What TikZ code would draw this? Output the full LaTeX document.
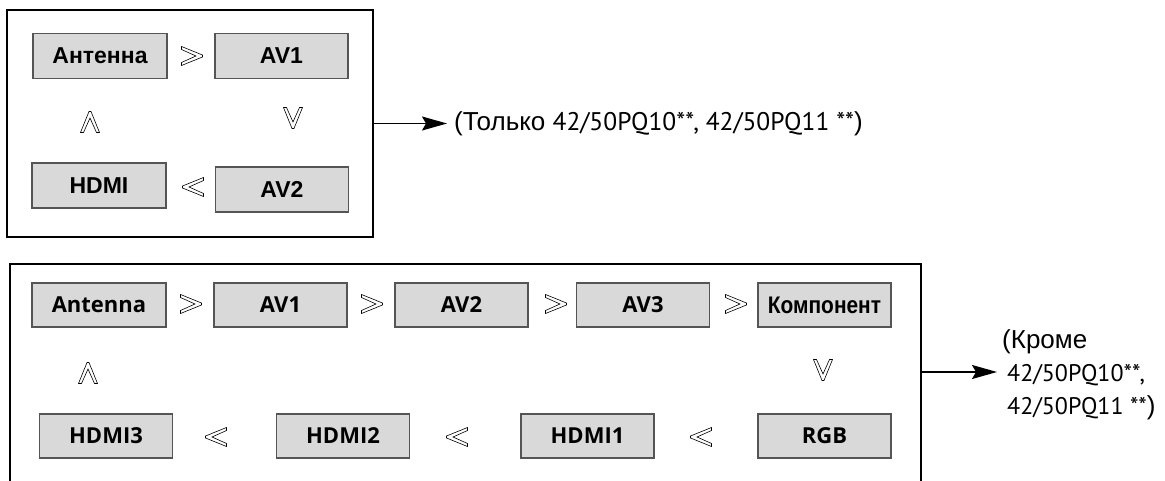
\documentclass[tikz,border=0pt]{standalone}
\usepackage{fontspec}
\setmainfont{Liberation Sans}
\newfontfamily\numfont{PT Sans}
\newfontfamily\osfont{Open Sans}
\newfontfamily\narrowfont[FakeStretch=0.87]{Liberation Sans}
\usetikzlibrary{arrows.meta}
\definecolor{boxfill}{HTML}{D9D9D9}
\definecolor{boxline}{HTML}{555555}
\begin{document}
\begin{tikzpicture}[x=1pt,y=-1pt,
  box/.style={draw=boxline, fill=boxfill, line width=1.4pt, minimum width=133pt, minimum height=45pt, inner sep=0pt},
  topbox/.style={box, font=\fontsize{23}{23}\selectfont\bfseries},
  botbox/.style={box, minimum height=44pt, font=\osfont\fontsize{22}{22}\selectfont\bfseries},
  frame/.style={draw=black, line width=1.3pt},
  arr/.style={line width=1.4pt, -{Stealth[length=25pt,width=14pt,inset=4pt]}},
  lbl/.style={inner ysep=0pt, inner xsep=7pt, font=\fontsize{26}{33}\selectfont},
  pics/chev/.style={code={\draw[line width=0.6pt, fill=white] (-10.5,9.5) -- (10.5,1) -- (10.5,-1) -- (-10.5,-9.5) -- (-10.5,-6.5) -- (4,0) -- (-10.5,6.5) -- cycle;}}
]
\useasboundingbox (0,0) rectangle (1165,481);

% top group
\node[frame, minimum width=366pt, minimum height=227pt, inner sep=0pt] (f1) at (190,123.5) {};
\node[topbox, minimum width=134pt] (ant) at (100,56) {Антенна};
\node[topbox] (av1) at (281.5,56) {AV1};
\node[topbox, minimum width=134pt] (hdmi) at (99,185.5) {HDMI};
\node[topbox] (av2) at (282,189.5) {AV2};
\pic at (192,56) {chev};
\pic[rotate=-90] at (293,118) {chev};
\pic[rotate=180] at (193,187) {chev};
\pic[rotate=90] at (90,122) {chev};
\node[lbl, anchor=west] (t1) at (447,124) {(Только {\numfont\fontsize{25.5}{33}\selectfont 42/50PQ10**, 42/50PQ11 **})};
\draw[arr] (f1.east) -- (f1.east -| t1.west);

% bottom group
\draw[frame] (10,481) -- (10,264) -- (921,264) -- (921,481);
\coordinate (f2) at (921,372);
\node[botbox, minimum width=134pt] (bant) at (99,305) {Antenna};
\node[botbox] (bav1) at (280.5,305) {AV1};
\node[botbox] (bav2) at (461.5,305) {AV2};
\node[botbox] (bav3) at (643,305) {AV3};
\node[botbox, font=\narrowfont\fontsize{24}{24}\selectfont\bfseries] (bcomp) at (824.5,305) {Компонент};
\node[botbox] (bh3) at (106,436) {HDMI3};
\node[botbox] (bh2) at (343,436) {HDMI2};
\node[botbox] (bh1) at (587.5,436) {HDMI1};
\node[botbox] (brgb) at (824.5,436) {RGB};
\pic at (191,304) {chev};
\pic at (372,304) {chev};
\pic at (556,304) {chev};
\pic at (736,304) {chev};
\pic[rotate=90] at (88,373) {chev};
\pic[rotate=-90] at (823,370) {chev};
\pic[rotate=180] at (216,437) {chev};
\pic[rotate=180] at (457,437) {chev};
\pic[rotate=180] at (701,437) {chev};
\node[lbl, anchor=west, align=left, inner xsep=5pt] (t2) at (997,375) {(Кроме\\
  \hspace*{5pt}{\numfont\fontsize{24}{33}\selectfont 42/50PQ10**,}\\
  \hspace*{5pt}{\numfont\fontsize{24}{33}\selectfont 42/50PQ11 **})};
\draw[arr] (f2) -- (f2 -| t2.west);
\end{tikzpicture}
\end{document}
